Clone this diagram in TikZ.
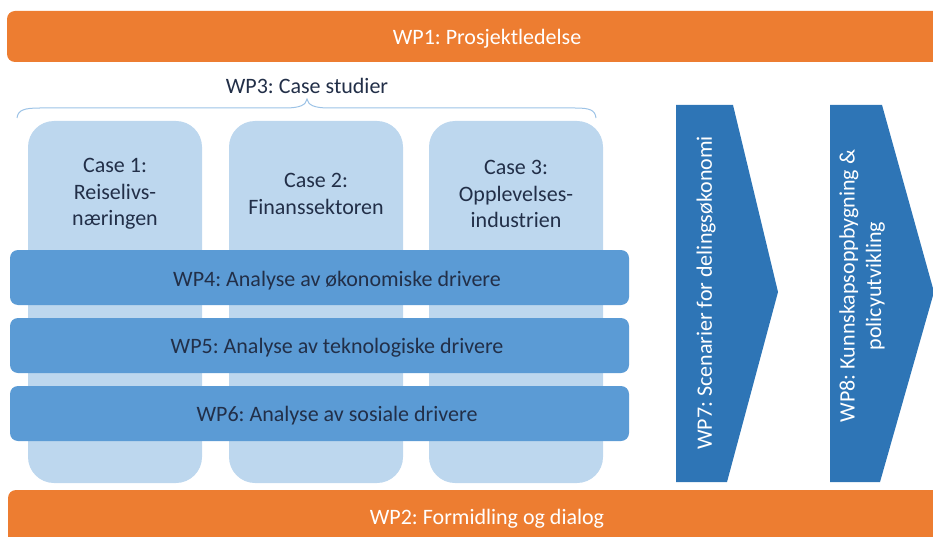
\documentclass[tikz,border=0pt]{standalone}
\usepackage{fontspec}
\setmainfont{Carlito}
\frenchspacing
\definecolor{orangebar}{HTML}{ED7D31}
\definecolor{casefill}{HTML}{BDD7EE}
\definecolor{wpfill}{HTML}{5B9BD5}
\definecolor{arrowfill}{HTML}{2E75B6}
\definecolor{darktext}{HTML}{222F48}
\definecolor{bracecol}{HTML}{9DC3E6}
\begin{document}
\begin{tikzpicture}[x=1pt,y=-1pt,
  bigfont/.style={font=\fontsize{22}{26.5}\selectfont},
  barbox/.style={fill=orangebar, draw=none, rounded corners=8pt},
  casebox/.style={fill=casefill, draw=none, rounded corners=26pt},
  wpbox/.style={fill=wpfill, draw=none, rounded corners=8pt},
  arrowshape/.style={fill=arrowfill, draw=none},
  whitelabel/.style={bigfont, text=white, align=center},
  darklabel/.style={bigfont, text=darktext, align=center}]
\useasboundingbox (0,0) rectangle (933,537);
\clip (0,0) rectangle (933,537);
% top and bottom bars
\path[barbox] (7,11) rectangle (960,62);
\node[whitelabel] (wp1) at (487,39) {WP1: Prosjektledelse};
\path[barbox] (8,490) rectangle (960,580);
\node[whitelabel] (wp2) at (487,519) {WP2: Formidling og dialog};
% brace and WP3
\node[darklabel] (wp3) at (307,86) {WP3: Case studier};
\draw[bracecol, line width=1pt] (17,118) .. controls (18,110) and (24,108) .. (40,108) -- (285,108) .. controls (300,108) and (306,105) .. (307,99)
  .. controls (308,105) and (314,108) .. (329,108) -- (575,108) .. controls (590,108) and (595,110) .. (596,118);
% case boxes
\path[casebox] (28,121) rectangle (202,483);
\path[casebox] (229,121) rectangle (403,483);
\path[casebox] (429,121) rectangle (603,483);
\node[darklabel] (c1) at (115,194) {Case 1:\\Reiselivs-\\næringen};
\node[darklabel] (c2) at (316,194) {Case 2:\\Finanssektoren};
\node[darklabel] (c3) at (516,194) {Case 3:\\Opplevelses-\\industrien};
% WP4-6
\path[wpbox] (10,250) rectangle (629,305);
\node[darklabel] (wp4) at (337,281) {WP4: Analyse av økonomiske drivere};
\path[wpbox] (10,318) rectangle (629,373);
\node[darklabel] (wp5) at (337,348) {WP5: Analyse av teknologiske drivere};
\path[wpbox] (10,386) rectangle (629,441);
\node[darklabel] (wp6) at (337,416) {WP6: Analyse av sosiale drivere};
% WP7, WP8 arrows
\path[arrowshape] (676,105) -- (733,105) -- (778,292) -- (727,482) -- (676,482) -- cycle;
\node[whitelabel, rotate=90] (wp7) at (706,293) {WP7: Scenarier for delingsøkonomi};
\path[arrowshape] (830,105) -- (882,105) -- (934,292) -- (880,482) -- (830,482) -- cycle;
\node[whitelabel, rotate=90] (wp8) at (862,286) {WP8: Kunnskapsoppbygning \&\\policyutvikling};
\end{tikzpicture}
\end{document}
